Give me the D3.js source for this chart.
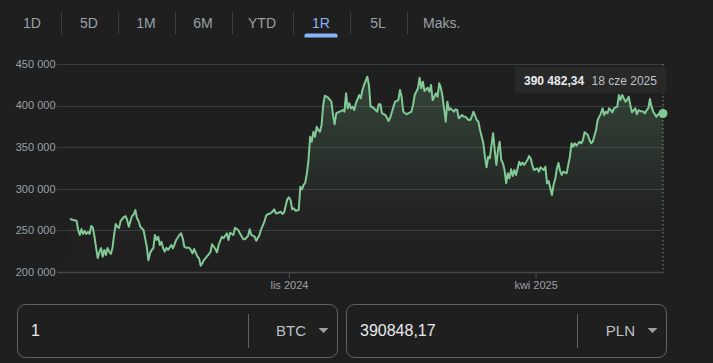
<!DOCTYPE html>
<html>
<head>
<meta charset="utf-8">
<script src="https://d3js.org/d3.v7.min.js"></script>
<style>
html, body { margin: 0; padding: 0; background: #1f1f1f; }
svg { display: block; font-family: Arial, "Liberation Sans", sans-serif; }
</style>
</head>
<body>
<svg id="chart" width="713" height="363"></svg>
<script>

// BTC/PLN, 1 year range; day offsets counted from startDate
var startDate = "2024-06-20";

var dayOffsets = [
	0,2,4,5,6,7,8,9,10,11,
	12,13,14,15,16,17,18,19,20,21,
	22,23,24,25,26,27,28,29,30,31,
	33,34,35,36,37,38,39,40,41,42,
	43,45,46,47,48,49,50,51,52,53,
	54,55,56,57,58,59,60,62,63,64,
	65,67,68,69,70,71,73,74,75,76,
	78,79,80,81,82,84,85,86,87,89,
	90,91,93,94,96,97,98,100,101,103,
	104,106,107,109,110,111,113,114,116,117,
	119,120,121,122,124,125,126,127,129,130,
	131,132,133,134,135,136,137,138,140,141,
	142,143,144,145,146,147,148,149,150,151,
	152,153,154,155,156,158,160,161,162,163,
	164,166,167,168,169,170,171,172,173,174,
	175,177,178,179,180,182,183,184,185,187,
	188,189,190,191,193,194,195,196,198,199,
	201,202,203,204,206,207,209,210,211,213,
	214,215,216,217,219,220,221,222,224,225,
	226,227,228,230,231,232,233,235,236,237,
	238,240,241,242,244,245,246,247,249,250,
	251,253,254,255,256,257,258,259,260,261,
	262,263,264,265,266,267,268,269,270,271,
	272,273,275,276,277,278,280,281,282,283,
	284,286,287,288,290,291,292,293,295,296,
	297,298,299,300,301,302,304,305,306,307,
	308,309,310,312,313,314,315,317,318,319,
	320,322,323,324,325,326,327,328,329,330,
	331,332,333,335,336,337,338,339,340,341,
	342,343,344,346,347,348,349,351,352,353,
	354,355,356,357,359,360,361,363
];

var prices = [
	263700,262500,261700,250500,244500,251700,245700,249300,245700,248100,
	245700,255300,252900,242400,228800,216800,224000,228800,218400,226400,
	220400,228800,224400,221600,228800,244500,257700,254400,252900,261300,
	266100,267300,262500,254400,261300,267300,269300,274500,264500,261300,
	254400,250500,240500,230400,214100,222500,226400,228500,244500,238500,
	242400,232500,236400,228500,224400,229200,226400,232500,228500,233300,
	238500,244500,246500,240500,230400,229200,229200,226400,222500,227600,
	218400,216500,207600,210500,214400,219200,221300,224400,233300,227600,
	223700,232500,242400,240500,246500,238500,247200,244500,253200,250500,
	246500,239700,239300,243300,251300,244500,242400,237600,244500,251300,
	260500,267300,269700,269700,272500,275400,270600,270600,272500,269700,
	271300,279300,287400,289800,286500,275400,276600,273700,274500,302500,
	299400,304600,307300,318600,334600,362600,356600,368600,362600,374600,
	370700,368600,376700,400700,411900,409500,404700,388700,377500,390700,
	391900,393500,394700,392700,414800,396700,402800,396700,398700,394700,
	402800,412700,408800,418700,424800,434700,424800,398700,398700,394700,
	392700,401600,401600,390700,388700,385500,381500,385500,398700,404700,
	406700,418700,410700,392700,389500,390700,392700,400700,412700,420800,
	433500,420800,428700,417500,421500,416700,424800,406700,414800,410700,
	426800,421500,411500,380600,404700,394700,396700,392700,395500,394700,
	384700,388700,386700,386700,382700,382700,386700,392700,382700,380600,
	370700,354700,338600,325800,338600,336700,352600,366700,346600,328600,
	346600,356600,334600,330600,322600,306600,318600,312600,323400,315400,
	322600,316600,332600,328600,331400,328600,334600,339400,336700,328600,
	322600,324600,320600,325800,322600,326600,306600,309400,292500,304600,
	311800,323800,331000,321400,316600,320600,318600,328600,338600,354700,
	350600,354700,351800,356600,354700,358700,367900,364700,358700,354700,
	356600,370700,382700,386700,390700,396700,388700,392700,390700,396700,
	394700,391900,396700,398700,412700,406700,412700,408800,404700,406700,
	410700,400700,391900,396700,389500,394700,393500,392700,390700,394700,
	396700,407900,398700,392700,386700,389500,390700,390482.34
];

var yTicks = [200000, 250000, 300000, 350000, 400000, 450000];
var xTickDates = ["2024-11-01", "2025-04-01"];

var ranges = ["1D", "5D", "1M", "6M", "YTD", "1R", "5L", "Maks."];
var activeRange = "1R";

var fromAmount = "1";
var fromCurrency = "BTC";
var toAmount = "390848,17";
var toCurrency = "PLN";

var monthsShort = ["sty", "lut", "mar", "kwi", "maj", "cze", "lip", "sie", "wrz", "paź", "lis", "gru"];

// ---------------------------------------------------------------

var plNum = d3.formatLocale({ decimal: ",", thousands: "\u00a0", grouping: [3], currency: ["", " zł"] });
var plTime = d3.timeFormatLocale({
	dateTime: "%A, %e %B %Y, %X", date: "%d.%m.%Y", time: "%H:%M:%S", periods: ["AM", "PM"],
	days: ["niedziela", "poniedziałek", "wtorek", "środa", "czwartek", "piątek", "sobota"],
	shortDays: ["niedz.", "pon.", "wt.", "śr.", "czw.", "pt.", "sob."],
	months: ["styczeń", "luty", "marzec", "kwiecień", "maj", "czerwiec", "lipiec", "sierpień", "wrzesień", "październik", "listopad", "grudzień"],
	shortMonths: monthsShort
});

var parseDay = d3.utcParse("%Y-%m-%d");
var t0 = parseDay(startDate);
var series = dayOffsets.map(function(d, i) {
	return { date: d3.utcDay.offset(t0, d), value: prices[i] };
});
var last = series[series.length - 1];

var svg = d3.select("#chart");
svg.append("rect").attr("width", 713).attr("height", 363).attr("fill", "#1f1f1f");

var x = d3.scaleUtc()
	.domain(d3.extent(series, function(d) { return d.date; }))
	.range([70, 663]);
var y = d3.scaleLinear().domain([200000, 450000]).range([272, 64]);

// ---- range tabs
var tabs = svg.append("g").attr("class", "tabs");
var tx = 3.5;
ranges.forEach(function(r, i) {
	var t = tabs.append("text")
		.attr("y", 28)
		.attr("text-anchor", "middle")
		.attr("font-size", 14)
		.attr("fill", r === activeRange ? "#8ab4f8" : "#9aa0a6")
		.text(r);
	var w = Math.max(57, t.node().getComputedTextLength() + 33);
	t.attr("x", tx + w / 2);
	if (r === activeRange) {
		var ux = tx + w / 2 - 16.5;
		tabs.append("path")
			.attr("d", "M" + ux + ",37.5 L" + ux + ",35.5 Q" + ux + ",33.5 " + (ux + 2) + ",33.5 L" + (ux + 31) + ",33.5 Q" + (ux + 33) + ",33.5 " + (ux + 33) + ",35.5 L" + (ux + 33) + ",37.5 Z")
			.attr("fill", "#8ab4f8");
	}
	tx += w;
	if (i < ranges.length - 1) {
		tabs.append("line")
			.attr("x1", Math.round(tx) + 0.5).attr("x2", Math.round(tx) + 0.5)
			.attr("y1", 12).attr("y2", 34)
			.attr("stroke", "#3c4043");
	}
});

// ---- grid + y labels
var fmtAxis = plNum.format(",d");
var grid = svg.append("g");
grid.selectAll("line").data(yTicks).enter().append("line")
	.attr("x1", 57).attr("x2", 664)
	.attr("y1", function(d) { return Math.round(y(d)) + 0.5; })
	.attr("y2", function(d) { return Math.round(y(d)) + 0.5; })
	.attr("stroke", function(d) { return d === 200000 ? "#45484b" : "#3a3d40"; })
	.attr("stroke-width", function(d) { return d === 200000 ? 1.5 : 1; });
grid.selectAll("text").data(yTicks).enter().append("text")
	.attr("x", 55.5)
	.attr("y", function(d) { return y(d); })
	.attr("dy", "0.35em")
	.attr("text-anchor", "end")
	.attr("font-size", 11)
	.attr("fill", "#9aa0a6")
	.text(function(d) { return fmtAxis(d); });

// ---- x axis
var xAxis = d3.axisBottom(x)
	.tickValues(xTickDates.map(parseDay))
	.tickFormat(plTime.utcFormat("%b %Y"))
	.tickSize(6)
	.tickPadding(3);
var gx = svg.append("g").attr("transform", "translate(0,272)").call(xAxis);
gx.select(".domain").remove();
gx.selectAll(".tick line").attr("stroke", "#4a4d50");
gx.selectAll(".tick text")
	.attr("fill", "#9aa0a6")
	.attr("font-size", 11)
	.attr("font-family", "Arial, 'Liberation Sans', sans-serif");

// ---- area + line
var defs = svg.append("defs");
var grad = defs.append("linearGradient")
	.attr("id", "areaFill")
	.attr("gradientUnits", "userSpaceOnUse")
	.attr("x1", 0).attr("y1", 64).attr("x2", 0).attr("y2", 272);
grad.append("stop").attr("offset", 0).attr("stop-color", "#81c995").attr("stop-opacity", 0.24);
grad.append("stop").attr("offset", 0.75).attr("stop-color", "#81c995").attr("stop-opacity", 0.02);
grad.append("stop").attr("offset", 1).attr("stop-color", "#81c995").attr("stop-opacity", 0);

var area = d3.area()
	.x(function(d) { return x(d.date); })
	.y0(272)
	.y1(function(d) { return y(d.value); });
var line = d3.line()
	.x(function(d) { return x(d.date); })
	.y(function(d) { return y(d.value); });

svg.append("path").datum(series).attr("d", area).attr("fill", "url(#areaFill)");
svg.append("path").datum(series).attr("d", line)
	.attr("fill", "none")
	.attr("stroke", "#81c995")
	.attr("stroke-width", 2)
	.attr("stroke-linejoin", "round");

// ---- hover marker on last point
var lx = x(last.date);
svg.append("line")
	.attr("x1", lx).attr("x2", lx).attr("y1", 64).attr("y2", 272)
	.attr("stroke", "#80868b")
	.attr("stroke-dasharray", "1.5,2.5");

var tip = svg.append("g");
tip.append("rect")
	.attr("x", 515).attr("y", 67).attr("width", 151).attr("height", 26)
	.attr("fill", "#282828");
var tv = tip.append("text")
	.attr("x", 524).attr("y", 84.5)
	.attr("font-size", 12).attr("font-weight", "bold")
	.attr("fill", "#e8eaed")
	.text(plNum.format(",.2f")(last.value));
tip.append("text")
	.attr("x", 524 + tv.node().getComputedTextLength() + 7.5).attr("y", 84.5)
	.attr("font-size", 12)
	.attr("fill", "#bdc1c6")
	.text(plTime.utcFormat("%-d %b %Y")(last.date));

svg.append("circle")
	.attr("cx", lx).attr("cy", y(last.value)).attr("r", 4.5)
	.attr("fill", "#81c995");

// ---- converter boxes
function converterBox(x0, w, amount, cur) {
	var g = svg.append("g");
	g.append("rect")
		.attr("x", x0 + 0.5).attr("y", 304.5).attr("width", w).attr("height", 53).attr("rx", 8)
		.attr("fill", "none").attr("stroke", "#5f6368");
	g.append("text")
		.attr("x", x0 + 14).attr("y", 336)
		.attr("font-size", 16).attr("fill", "#e8eaed")
		.text(amount);
	g.append("line")
		.attr("x1", x0 + w - 88.5).attr("x2", x0 + w - 88.5)
		.attr("y1", 314).attr("y2", 348)
		.attr("stroke", "#5f6368");
	g.append("text")
		.attr("x", x0 + w - 31).attr("y", 335.5)
		.attr("text-anchor", "end")
		.attr("font-size", 15).attr("fill", "#bdc1c6")
		.text(cur);
	var cx = x0 + w - 13.5;
	g.append("path")
		.attr("d", "M" + (cx - 5) + ",328 L" + (cx + 5) + ",328 L" + cx + ",333 Z")
		.attr("fill", "#9aa0a6");
}
converterBox(17, 320, fromAmount, fromCurrency);
converterBox(346, 320, toAmount, toCurrency);

</script>
</body>
</html>
